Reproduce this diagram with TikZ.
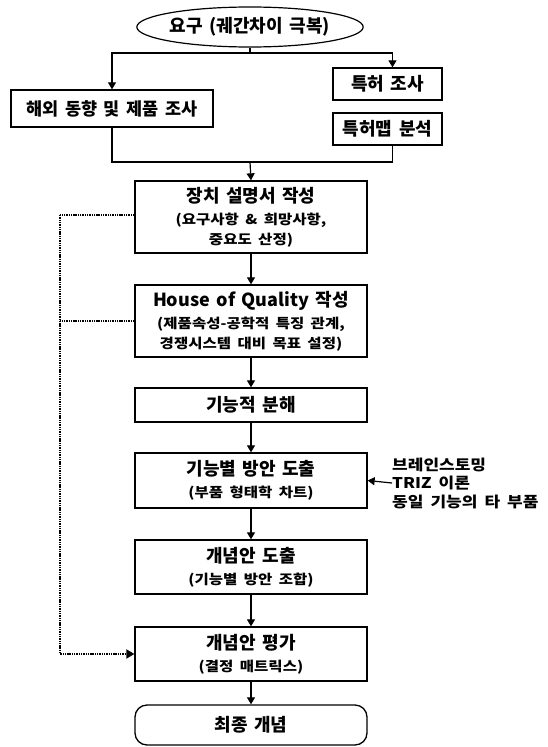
\documentclass[tikz,border=0pt]{standalone}
\usepackage{fontspec}
\setmainfont{Noto Sans CJK KR}[WordSpace=1.6]
\newfontfamily\krwide{Noto Sans CJK KR}[FakeStretch=1.15, WordSpace=1.8]
\usetikzlibrary{shapes.geometric,arrows.meta}
\tikzset{
  box/.style={draw=black, line width=1.3pt, rectangle, minimum width=232pt, align=center, inner sep=2pt, font=\bfseries\fontsize{18}{21}\selectfont},
  conn/.style={line width=1.2pt, draw=black},
  arr/.style={conn, -{Triangle[length=7pt,width=8pt]}},
  fb/.style={line width=1.8pt, dash pattern=on 1.4pt off 0.9pt, draw=black}
}
\newcommand{\subtxt}[1]{{\krwide\bfseries\fontsize{13.5}{16}\selectfont #1}}
\begin{document}
\begin{tikzpicture}[x=1pt,y=1pt]
\useasboundingbox[fill=white] (0,0) rectangle (548,-747);
\node[ellipse, draw, line width=1.2pt, minimum width=208pt, minimum height=40pt, inner sep=0pt, font=\bfseries\fontsize{18}{21}\selectfont] (req) at (250,-27) {요구 (궤간차이 극복)};
\node[box, minimum width=202pt, minimum height=37pt, font=\bfseries\fontsize{17.5}{21}\selectfont] (overseas) at (112,-108.5) {해외 동향 및 제품 조사};
\node[box, minimum width=109pt, minimum height=32pt] (pat1) at (387.5,-84) {특허 조사};
\node[box, minimum width=109pt, minimum height=32pt] (pat2) at (387.5,-129) {특허맵 분석};
\node[box, minimum height=72pt] (spec) at (251,-217) {장치 설명서 작성\\[1pt]\subtxt{(요구사항 \& 희망사항,}\\[-1pt]\subtxt{중요도 산정)}};
\node[box, minimum height=72pt] (hoq) at (251,-321) {House of Quality 작성\\[1pt]\subtxt{(제품속성-공학적 특징 관계,}\\[-1pt]\subtxt{경쟁시스템 대비 목표 설정)}};
\node[box, minimum height=34pt] (func) at (251,-405) {기능적 분해};
\node[box, minimum height=55pt] (sol) at (251,-480.5) {기능별 방안 도출\\[1pt]\subtxt{(부품 형태학 차트)}};
\node[box, minimum height=54pt] (conc) at (251,-567) {개념안 도출\\[1pt]\subtxt{(기능별 방안 조합)}};
\node[box, minimum height=54pt] (eval) at (251,-654) {개념안 평가\\[1pt]\subtxt{(결정 매트릭스)}};
\node[box, rounded corners=12pt, minimum height=40pt] (final) at (251,-725) {최종 개념};
\node[anchor=west, align=left, inner sep=0pt, font=\krwide\bfseries\fontsize{14.8}{18.5}\selectfont] (ideas) at (392,-483) {브레인스토밍\\TRIZ 이론\\동일 기능의 타 부품};
% connectors
\coordinate (split) at (250,-53);
\coordinate (merge) at (250,-162);
\draw[conn] (req.south) -- (split);
\draw[arr] (split) -| (overseas.north);
\draw[arr] (split) -| ([xshift=5pt]pat1.north);
\draw[conn] (overseas.south) |- (merge);
\draw[conn] ([xshift=5pt]pat2.south) |- (merge);
\draw[arr] (merge) -- (spec.north);
\draw[arr] (spec) -- (hoq);
\draw[arr] (hoq) -- (func);
\draw[arr] (func) -- (sol);
\draw[arr] (sol) -- (conc);
\draw[arr] (conc) -- (eval);
\draw[arr] (eval) -- (final);
\draw[arr] (ideas.west) -- (sol.east);
\coordinate (fbtop) at (60,-215);
\draw[fb] ([yshift=2pt]spec.west) -- (fbtop);
\draw[fb, -{Triangle[length=8pt,width=9pt]}] (fbtop) |- (eval.west);
\draw[fb] (hoq.west) -- (hoq.west -| fbtop);
\end{tikzpicture}
\end{document}
